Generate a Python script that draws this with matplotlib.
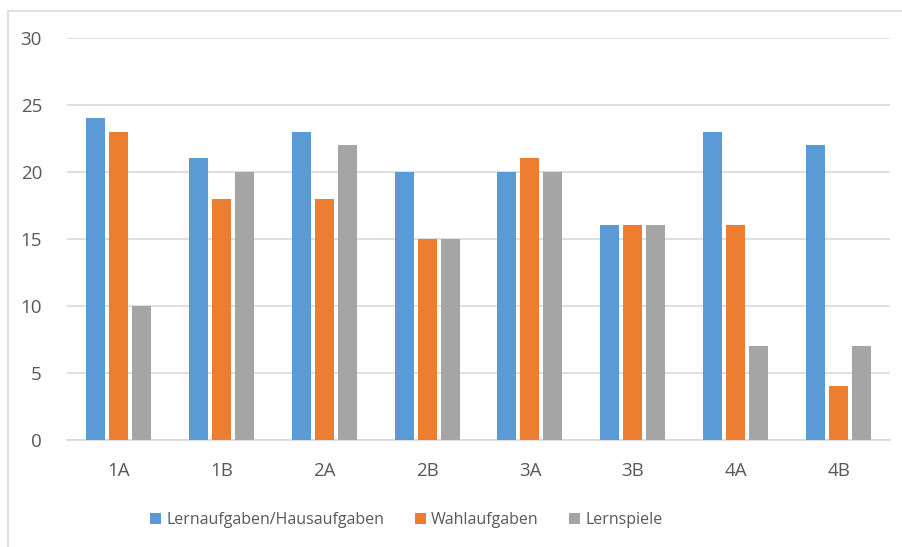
import matplotlib

matplotlib.use("Agg")
import matplotlib.pyplot as plt
import numpy as np

# data
classes = ["1A", "1B", "2A", "2B", "3A", "3B", "4A", "4B"]
lernaufgaben = [24, 21, 23, 20, 20, 16, 23, 22]
wahlaufgaben = [23, 18, 18, 15, 21, 16, 16, 4]
lernspiele = [10, 20, 22, 15, 20, 16, 7, 7]
series_names = ["Lernaufgaben/Hausaufgaben", "Wahlaufgaben", "Lernspiele"]
y_ticks = [0, 5, 10, 15, 20, 25, 30]

colors = ["#5B9BD5", "#ED7D31", "#A5A5A5"]
text_color = "#595959"

plt.rcParams["font.family"] = ["Open Sans", "DejaVu Sans"]

W, H = 902, 547
fig = plt.figure(figsize=(W / 100, H / 100), dpi=100)
ax = fig.add_axes([67 / W, 1 - 440 / H, 823 / W, (440 - 37.7) / H])

x = np.arange(len(classes))
width = 0.185
offset = 0.224
for i, (vals, name) in enumerate(zip([lernaufgaben, wahlaufgaben, lernspiele], series_names)):
    ax.bar(x + (i - 1) * offset, vals, width, color=colors[i], label=name, zorder=3)

ax.set_xlim(-0.5, len(classes) - 0.5)
ax.set_ylim(0, 30)
ax.set_yticks(y_ticks)
ax.set_xticks(x)
ax.set_xticklabels(classes)
ax.tick_params(axis="both", length=0, colors=text_color, labelsize=13.5)
ax.tick_params(axis="y", pad=18)
ax.tick_params(axis="x", pad=16)
ax.grid(axis="y", color="#D9D9D9", linewidth=1.2, zorder=0)
for side in ["top", "right", "left"]:
    ax.spines[side].set_visible(False)
ax.spines["bottom"].set_color("#D9D9D9")
ax.spines["bottom"].set_linewidth(1.2)

ax.legend(loc="center left", bbox_to_anchor=(150 / W, 1 - 520 / H),
          bbox_transform=fig.transFigure, ncol=3, frameon=False,
          fontsize=11.5, labelcolor=text_color, handlelength=0.7, handleheight=0.7,
          columnspacing=1.9, handletextpad=0.32, borderpad=0, borderaxespad=0)

# light frame round the chart area
fig.patches.append(plt.Rectangle((8 / W, -0.05), 1.1, 1 - 11 / H + 0.05, transform=fig.transFigure,
                                 fill=False, edgecolor="#D9D9D9", linewidth=1.2))

fig.savefig("out.png", dpi=100)
plt.close(fig)
